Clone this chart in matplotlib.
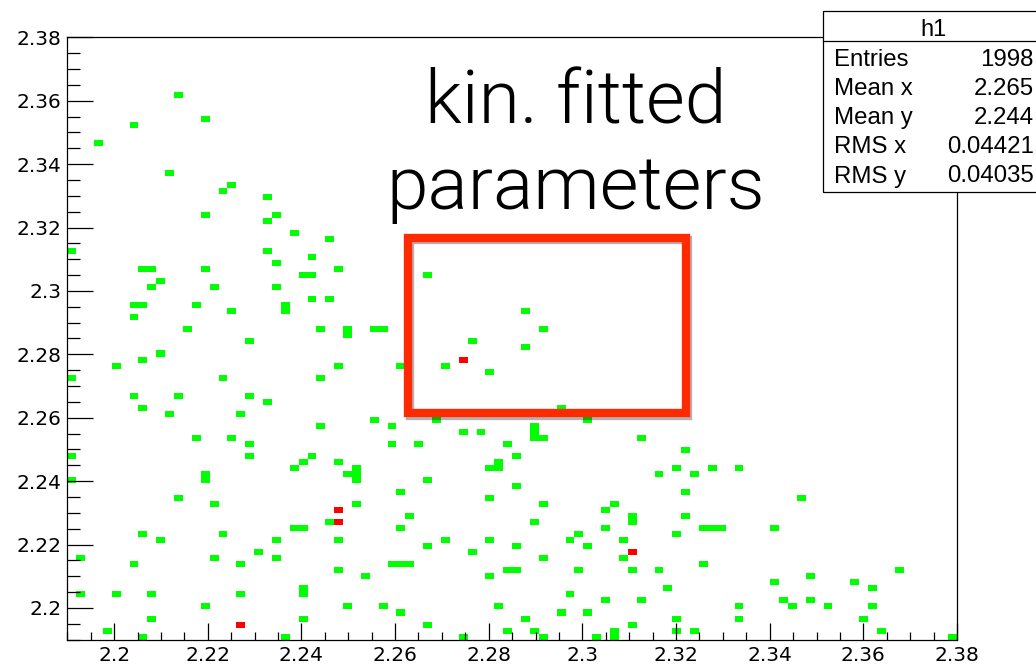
import numpy as np
import matplotlib
matplotlib.use('Agg')
import matplotlib.pyplot as plt
import matplotlib.patheffects as pe
from matplotlib import font_manager as fm
from matplotlib.colors import ListedColormap, BoundaryNorm
from matplotlib.patches import Rectangle
from matplotlib.lines import Line2D
from matplotlib.ticker import MultipleLocator, FormatStrFormatter

# 2D histogram h1: 100 x 100 bins on both axes
n_bins = 100
lo, hi = 2.19, 2.38

# filled cells as (x bin, y bin), bin 0 at lower left
green_cells = [
    (12, 90), (15, 86), (7, 85), (3, 82), (11, 77), (18, 75), (17, 74), (22, 73),
    (15, 70), (23, 70), (22, 69), (25, 67), (29, 66),
    (0, 64), (22, 64), (27, 63), (23, 62), (8, 61), (9, 61), (15, 61), (30, 61),
    (26, 60), (27, 60), (10, 59), (9, 58), (16, 58), (23, 58), (27, 56), (29, 56),
    (7, 55), (8, 55), (14, 55), (24, 55), (24, 54), (18, 54), (7, 53), (13, 51),
    (28, 51), (31, 51), (31, 50), (20, 49), (10, 47), (8, 46), (5, 45), (30, 45),
    (0, 43), (17, 43), (28, 43), (7, 40), (12, 40), (20, 40), (22, 39), (8, 38),
    (11, 37), (19, 37), (28, 35), (14, 33), (18, 33), (20, 32),
    (0, 30), (20, 30), (27, 30), (26, 29), (30, 29), (25, 28), (32, 28), (31, 27),
    (32, 27), (32, 26), (15, 27), (15, 26), (0, 26), (12, 23), (16, 22), (32, 22),
    (29, 19), (25, 18), (26, 18), (8, 17), (17, 17), (10, 16), (23, 16), (30, 16),
    (21, 14), (1, 13), (16, 13), (23, 13), (7, 12), (19, 12), (30, 11), (1, 7),
    (5, 7), (9, 7), (19, 7), (26, 7), (26, 8), (15, 5), (31, 5), (9, 3), (26, 3),
    (4, 1), (8, 0), (24, 0),
    (40, 60), (51, 54), (53, 51), (34, 51), (35, 51), (45, 49), (51, 48), (37, 45),
    (42, 45), (47, 44), (55, 38), (41, 36), (44, 37), (58, 36), (34, 36), (36, 35),
    (44, 34), (46, 34), (52, 35), (52, 34), (52, 33), (53, 33), (64, 33), (36, 32),
    (39, 32), (49, 32),
    (50, 30), (47, 28), (48, 28), (48, 29), (66, 27), (40, 26), (50, 25), (37, 24),
    (47, 23), (53, 22), (61, 22), (60, 21), (38, 20), (63, 20), (63, 19), (52, 19),
    (37, 18), (60, 18), (57, 17), (42, 16), (47, 16), (56, 16), (62, 16), (40, 15),
    (50, 15), (58, 15), (45, 14), (53, 13), (62, 13), (36, 12), (37, 12), (38, 12),
    (49, 11), (50, 11), (57, 11), (63, 11), (66, 11), (33, 10), (47, 10), (67, 8),
    (56, 7), (35, 5), (48, 5), (60, 6), (64, 6), (37, 4), (55, 4), (58, 4), (51, 3),
    (40, 2), (63, 2), (49, 1), (52, 1), (44, 0), (53, 0), (59, 0), (61, 0), (61, 1),
    (69, 31), (68, 28), (72, 28), (75, 28), (70, 27), (69, 24), (82, 23), (69, 20),
    (71, 18), (72, 18), (73, 18), (79, 18), (68, 17), (71, 12), (93, 11), (83, 10),
    (79, 9), (88, 9), (90, 8), (80, 6), (83, 6), (75, 5), (81, 5), (85, 5), (90, 5),
    (68, 3), (75, 3), (89, 3), (68, 1), (70, 1), (91, 1), (99, 0),
]
# cells holding two entries
red_cells = [(30, 21), (30, 19), (19, 2), (44, 46), (63, 14)]

stat_title = 'h1'
stat_labels = ['Entries', 'Mean x', 'Mean y', 'RMS x', 'RMS y']
stat_values = ['1998', '2.265', '2.244', '0.04421', '0.04035']

W, H = 1036, 666


def fpx(x, y):
    # pixel position on the canvas -> figure fraction
    return x / W, 1 - y / H


def light_font(size):
    # a light sans face for the slide annotation, if one is installed
    for fam in ('Roboto', 'Lato', 'Open Sans', 'Inter'):
        for f in fm.fontManager.ttflist:
            w = fm.weight_dict.get(f.weight, f.weight)
            if f.name == fam and w == 300 and f.style == 'normal':
                return fm.FontProperties(fname=f.fname, size=size)
    return fm.FontProperties(family='Roboto', size=size)


edges = np.linspace(lo, hi, n_bins + 1)
centers = 0.5 * (edges[1:] + edges[:-1])
cells = green_cells + red_cells
counts = [1] * len(green_cells) + [2] * len(red_cells)
xs = centers[[c[0] for c in cells]]
ys = centers[[c[1] for c in cells]]

fig = plt.figure(figsize=(W / 100, H / 100), dpi=100)
ax = fig.add_axes([0.06496, 0.03964, 0.85879, 0.90435])

cmap = ListedColormap(['#00ff00', '#ff0000'])
norm = BoundaryNorm([0.5, 1.5, 2.5], 2)
ax.hist2d(xs, ys, bins=[edges, edges], weights=counts, cmin=0.5,
          cmap=cmap, norm=norm, antialiased=False, edgecolor='none')

ax.set_xlim(lo, hi)
ax.set_ylim(lo, hi)
for axis in (ax.xaxis, ax.yaxis):
    axis.set_major_locator(MultipleLocator(0.02))
    axis.set_minor_locator(MultipleLocator(0.005))
    axis.set_major_formatter(FormatStrFormatter('%g'))

ax.tick_params(which='both', direction='in', width=0.9, color='black',
               top=False, right=False, labelsize=14.5)
ax.tick_params(axis='y', which='major', length=19, pad=4)
ax.tick_params(axis='y', which='minor', length=9.6)
ax.tick_params(axis='x', which='major', length=12.5, pad=4.5)
ax.tick_params(axis='x', which='minor', length=6)
for lab in ax.get_xticklabels() + ax.get_yticklabels():
    lab.set_family('DejaVu Sans')
for sp in ax.spines.values():
    sp.set_linewidth(0.9)

# stats box
stat_font = 'Liberation Sans'
bx0, by0 = fpx(823, 192)
bx1, by1 = fpx(1100, 11)
fig.patches.append(Rectangle((bx0, by0), bx1 - bx0, by1 - by0, transform=fig.transFigure,
                             facecolor='white', edgecolor='black', lw=0.9, zorder=5))
sx, sy = fpx(823, 41)
fig.add_artist(Line2D([sx, 1.05], [sy, sy], transform=fig.transFigure,
                      color='black', lw=0.9, zorder=6))
tx, ty = fpx(933, 36.5)
fig.text(tx, ty, stat_title, ha='center', va='baseline', fontsize=17,
         family=stat_font, zorder=7)
for k, (lab, val) in enumerate(zip(stat_labels, stat_values)):
    yb = 65.7 + k * 29.2
    lx, ly = fpx(834, yb)
    rx, _ = fpx(1034, yb)
    fig.text(lx, ly, lab, ha='left', va='baseline', fontsize=17.3, family=stat_font, zorder=7)
    fig.text(rx, ly, val, ha='right', va='baseline', fontsize=17.3, family=stat_font, zorder=7)

# slide annotation
kin_font = light_font(54)
for line, yb in (('kin. fitted', 123), ('parameters', 209.3)):
    kx, ky = fpx(576, yb)
    fig.text(kx, ky, line, ha='center', va='baseline', fontproperties=kin_font, zorder=7)

rx0, ry0 = fpx(407.5, 413)
rx1, ry1 = fpx(685.5, 237.5)
box = Rectangle((rx0, ry0), rx1 - rx0, ry1 - ry0, transform=fig.transFigure,
                fill=False, edgecolor='#ff2a00', lw=6, joinstyle='miter', zorder=8)
box.set_path_effects([pe.SimpleLineShadow(offset=(2, -2), shadow_color='black', alpha=0.3),
                      pe.Normal()])
fig.patches.append(box)

fig.savefig('out.png', dpi=100)
